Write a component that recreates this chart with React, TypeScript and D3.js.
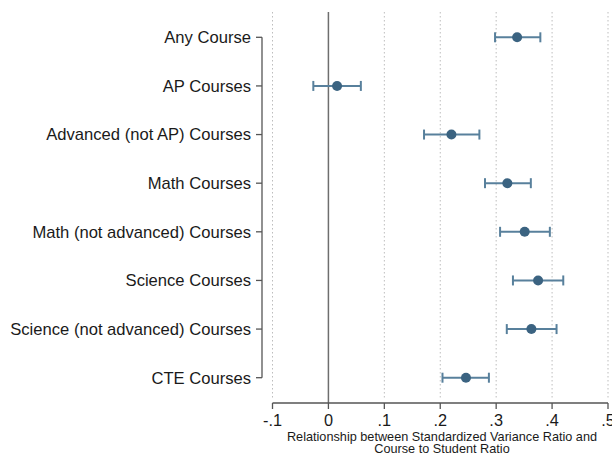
import React from 'react';
import * as d3 from 'd3';

const categories = [
  'Any Course',
  'AP Courses',
  'Advanced (not AP) Courses',
  'Math Courses',
  'Math (not advanced) Courses',
  'Science Courses',
  'Science (not advanced) Courses',
  'CTE Courses',
];
const estimates = [0.3375, 0.0155, 0.22, 0.32, 0.351, 0.375, 0.363, 0.246];
const lower = [0.298, -0.027, 0.171, 0.28, 0.307, 0.33, 0.319, 0.204];
const upper = [0.379, 0.058, 0.27, 0.362, 0.396, 0.42, 0.408, 0.287];
const xTicks = [-0.1, 0, 0.1, 0.2, 0.3, 0.4, 0.5];
const xTitle = ['Relationship between Standardized Variance Ratio and', 'Course to Student Ratio'];

const W = 612;
const H = 455;
const FONT = 'Arial, "Liberation Sans", Helvetica, sans-serif';

// Stata-style tick labels: "-.1", "0", ".1"
const fmt = (v: number) => {
  if (Math.abs(v) < 1e-9) return '0';
  const s = v.toFixed(1);
  return s.replace(/^(-?)0\./, '$1.');
};

export default function App() {
  const x = d3.scaleLinear().domain([-0.1, 0.5]).range([272.5, 608]);
  const y = d3.scalePoint<string>().domain(categories).range([37.3, 377.7]);

  const plotTop = 12;
  const plotBottom = 398;
  const axisY = 403;
  const yAxisX = 262;

  const markColor = '#3b6381';
  const barColor = '#58809c';

  return (
    <svg width={W} height={H} style={{ position: 'absolute', left: 0, top: 0, background: '#fff' }}>
      <rect width={W} height={H} fill="#fff" />
      {/* grid */}
      {xTicks.filter(t => t !== 0).map(t => (
        <line key={t} x1={x(t)} x2={x(t)} y1={plotTop} y2={plotBottom}
          stroke="#bdbdbd" strokeWidth={1} strokeDasharray="1.5,2.5" />
      ))}
      {/* zero reference line */}
      <line x1={x(0)} x2={x(0)} y1={plotTop} y2={axisY} stroke="#6e6e6e" strokeWidth={1.5} />

      {/* y axis */}
      <line x1={yAxisX} x2={yAxisX} y1={y(categories[0])!} y2={y(categories[categories.length - 1])!}
        stroke="#555" strokeWidth={1.3} />
      {categories.map(c => (
        <g key={c}>
          <line x1={yAxisX - 6} x2={yAxisX} y1={y(c)!} y2={y(c)!} stroke="#555" strokeWidth={1.3} />
          <text x={251} y={y(c)!} dy="0.35em" textAnchor="end" fontFamily={FONT} fontSize={16.6} fill="#1a1a1a">{c}</text>
        </g>
      ))}

      {/* x axis */}
      <line x1={x(-0.1)} x2={x(0.5)} y1={axisY} y2={axisY} stroke="#555" strokeWidth={1.3} />
      {xTicks.map(t => (
        <g key={t}>
          <line x1={x(t)} x2={x(t)} y1={axisY} y2={axisY + 6} stroke="#555" strokeWidth={1.3} />
          <text x={x(t)} y={425.5} textAnchor="middle" fontFamily={FONT} fontSize={16.3} fill="#1a1a1a">{fmt(t)}</text>
        </g>
      ))}
      {xTitle.map((l, i) => (
        <text key={i} x={442} y={440.5 + i * 12} textAnchor="middle" fontFamily={FONT} fontSize={12.7} fill="#1a1a1a">{l}</text>
      ))}

      {/* estimates with confidence intervals */}
      {categories.map((c, i) => {
        const cy = y(c)!;
        return (
          <g key={c}>
            <line x1={x(lower[i])} x2={x(upper[i])} y1={cy} y2={cy} stroke={barColor} strokeWidth={2} />
            <line x1={x(lower[i])} x2={x(lower[i])} y1={cy - 5} y2={cy + 5} stroke={barColor} strokeWidth={2} />
            <line x1={x(upper[i])} x2={x(upper[i])} y1={cy - 5} y2={cy + 5} stroke={barColor} strokeWidth={2} />
            <circle cx={x(estimates[i])} cy={cy} r={5} fill={markColor} />
          </g>
        );
      })}
    </svg>
  );
}
